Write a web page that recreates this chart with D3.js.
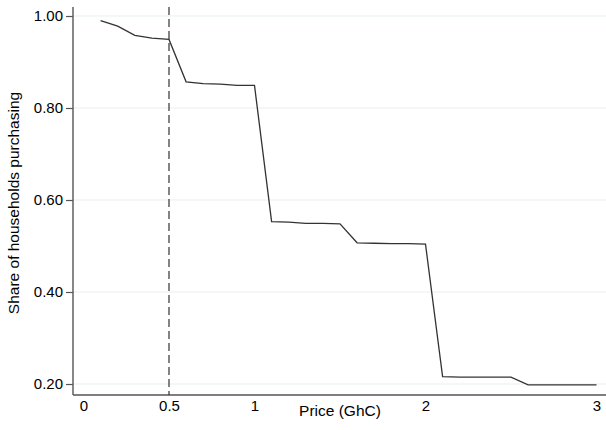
<!DOCTYPE html>
<html><head><meta charset="utf-8">
<script src="https://cdn.jsdelivr.net/npm/d3@7"></script>
<style>body{margin:0;background:#fff}svg{display:block}text{font-family:"Liberation Sans",Arial,sans-serif;fill:#000}</style>
</head><body>
<script>
const prices = [0.1,0.2,0.3,0.4,0.5,0.6,0.7,0.8,0.9,1.0,1.1,1.2,1.3,1.4,1.5,1.6,1.7,1.8,1.9,2.0,2.1,2.2,2.3,2.4,2.5,2.6,2.7,2.8,2.9,3.0];
const share = [0.990,0.978,0.958,0.952,0.949,0.857,0.853,0.852,0.849,0.849,0.553,0.552,0.549,0.549,0.548,0.507,0.506,0.505,0.505,0.504,0.216,0.215,0.215,0.215,0.215,0.198,0.198,0.198,0.198,0.198];
const xTicks = [0,0.5,1,2,3];
const yTicks = [0.2,0.4,0.6,0.8,1.0];
const refPrice = 0.5;

(function(){
const W=606,H=430;
const svg=d3.select("body").append("svg").attr("width",W).attr("height",H);
const x=d3.scaleLinear().domain([0,3]).range([83.5,596.5]);
const y=d3.scaleLinear().domain([0.2,1.0]).range([384,16]);
const pL=73, pR=606, pT=7, pB=395;

// gridlines
svg.append("g").selectAll("line").data(yTicks).join("line")
  .attr("x1",pL).attr("x2",pR).attr("y1",d=>y(d)).attr("y2",d=>y(d))
  .attr("stroke","#e8f0f1").attr("stroke-width",1.2);

// y axis
const ya=svg.append("g").attr("transform",`translate(${pL},0)`)
  .call(d3.axisLeft(y).tickValues(yTicks).tickFormat(d3.format(".2f")).tickSize(7).tickPadding(3));
ya.select(".domain").attr("d",`M0,${pT}V${pB}`).attr("stroke","#555").attr("stroke-width",1.4);
ya.selectAll(".tick line").attr("stroke","#555").attr("stroke-width",1.2);
ya.selectAll("text").style("font-size","15px").attr("fill","#000");

// x axis
const xa=svg.append("g").attr("transform",`translate(0,${pB})`)
  .call(d3.axisBottom(x).tickValues(xTicks).tickFormat(d=>String(d)).tickSize(0).tickPadding(5));
xa.select(".domain").attr("d",`M${pL},0H${pR}`).attr("stroke","#555").attr("stroke-width",1.4);
xa.selectAll("text").style("font-size","15px").attr("fill","#000");

// reference line
svg.append("line").attr("x1",x(refPrice)).attr("x2",x(refPrice)).attr("y1",pT).attr("y2",pB)
  .attr("stroke","#333").attr("stroke-width",1.2).attr("stroke-dasharray","8,4");

// data line
const pts=prices.map((p,i)=>[p,share[i]]);
svg.append("path").datum(pts)
  .attr("d",d3.line().x(d=>x(d[0])).y(d=>y(d[1])))
  .attr("fill","none").attr("stroke","#333").attr("stroke-width",1.3);

// titles
svg.append("text").attr("x",340).attr("y",416).attr("text-anchor","middle")
  .style("font-size","15.5px").text("Price (GhC)");
svg.append("text").attr("transform",`translate(19,203) rotate(-90)`).attr("text-anchor","middle")
  .style("font-size","15.5px").text("Share of households purchasing");
})();
</script>
</body></html>
